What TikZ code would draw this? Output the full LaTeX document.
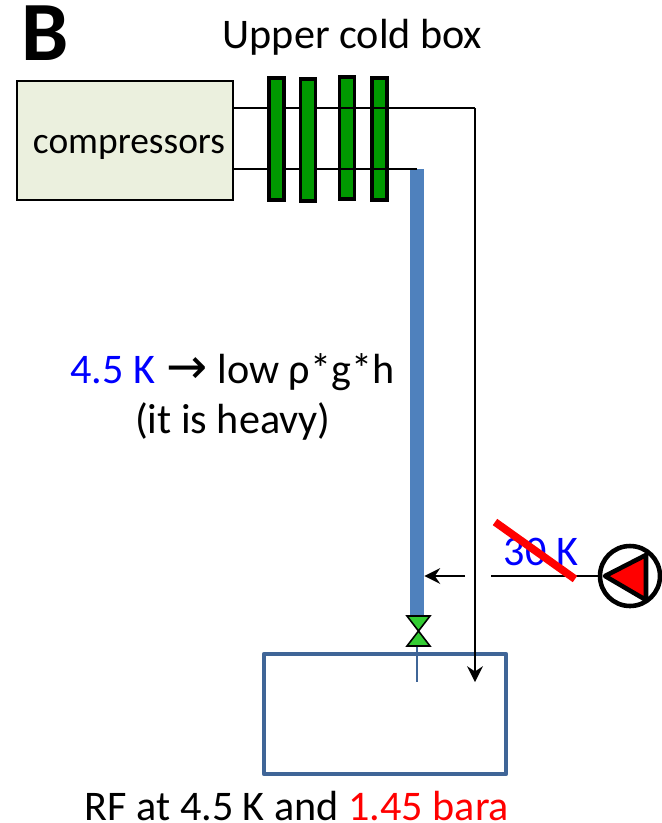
\documentclass[tikz,border=0pt]{standalone}
\usepackage{fontspec}
\setmainfont{Carlito}
\newfontfamily\arrowfont{DejaVu Sans}
\usepackage{xcolor}
\usetikzlibrary{arrows.meta,calc}
\definecolor{boxfill}{HTML}{EBF0DE}
\definecolor{hxgreen}{HTML}{009900}
\definecolor{pipeblue}{HTML}{4F81BD}
\definecolor{tankblue}{HTML}{3F6597}
\definecolor{valvegreen}{HTML}{33CC33}
\tikzset{
  label text/.style={font=\fontsize{24}{28}\selectfont,inner sep=0pt,anchor=base},
  thin line/.style={line width=1pt,black},
  hxbar/.style={draw=black,fill=hxgreen,line width=1.8pt,minimum width=0.3cm,minimum height=2.44cm,inner sep=0pt},
  tip/.style={-{Stealth[length=9pt,width=9pt,inset=3pt]}}
}
\begin{document}
\begin{tikzpicture}[x=0.02cm,y=-0.02cm]
\useasboundingbox (0,0) rectangle (662,823);
\node[font=\fontsize{48}{52}\selectfont\bfseries,inner sep=0pt,anchor=base] (title) at (45,60) {B};
\node[label text] (coldbox) at (352.5,48) {Upper cold box};

\node[draw=black,fill=boxfill,line width=0.8pt,minimum width=4.32cm,minimum height=2.38cm,inner sep=0pt] (compressors) at (125,140.5) {};
\node[label text,font=\fontsize{21.3}{25}\selectfont] (comptext) at (129,153) {compressors};

\node[hxbar] (hx3) at (347,138) {};
\node[hxbar] (hx4) at (379.5,139) {};

\node[fill=pipeblue,minimum width=0.28cm,minimum height=8.92cm,inner sep=0pt] (pipe) at (417,392) {};
\coordinate (riser) at (475,108);
\coordinate (tankin) at (475,682);
\draw[thin line] (compressors.east |- riser) -- (riser);
\draw[thin line] (compressors.east |- pipe.north) -- (pipe.north);

\node[hxbar] (hx1) at (276.5,139) {};
\node[hxbar] (hx2) at (308,140) {};

\node[draw=tankblue,line width=2.7pt,line join=round,minimum width=4.84cm,minimum height=2.4cm,inner sep=0pt] (tank) at (385,714) {};
\draw[thin line,tip] (riser) -- (tankin);

% valve
\coordinate (valvemid) at (418.5,631);
\draw[fill=valvegreen,line width=0.9pt] (407,616) -- (430,616) -- (valvemid) -- cycle;
\draw[fill=valvegreen,line width=0.9pt] (407,646) -- (430,646) -- (valvemid) -- cycle;
\coordinate (valvebase) at (417,647);
\coordinate (valveend) at (417,682);
\draw[tankblue,line width=0.7pt] (valvebase) -- (valveend);

% pump
\node[draw=black,fill=white,circle,line width=2.6pt,minimum size=1.2cm,inner sep=0pt] (pump) at (630,576) {};
\draw[fill=red,line width=2.6pt,line join=round] (605,576) -- (646,555) -- (646,600) -- cycle;

\coordinate (arrowstart) at (465,576);
\draw[thin line,tip] (arrowstart) -- (arrowstart -| pipe.east);
\coordinate (pumpline) at (491,576);
\draw[thin line] (pumpline) -- (pump.west);

\node[label text,blue] (warm) at (541,565) {30 K};
\coordinate (crossa) at (495,522);
\coordinate (crossb) at (575,579);
\draw[red,line width=4.4pt] (crossa) -- (crossb);

\node[label text,anchor=base west] (cold) at (70,383) {\textcolor{blue}{4.5 K}\kern6.3pt {\arrowfont\fontsize{28}{28}\selectfont→}\kern0.2pt\ low ρ*g*h};
\node[label text] (heavy) at (233,433) {(it is heavy)};
\node[label text] (rflabel) at (297,820) {RF at 4.5 K and \textcolor{red}{1.45 bara}};
\end{tikzpicture}
\end{document}
